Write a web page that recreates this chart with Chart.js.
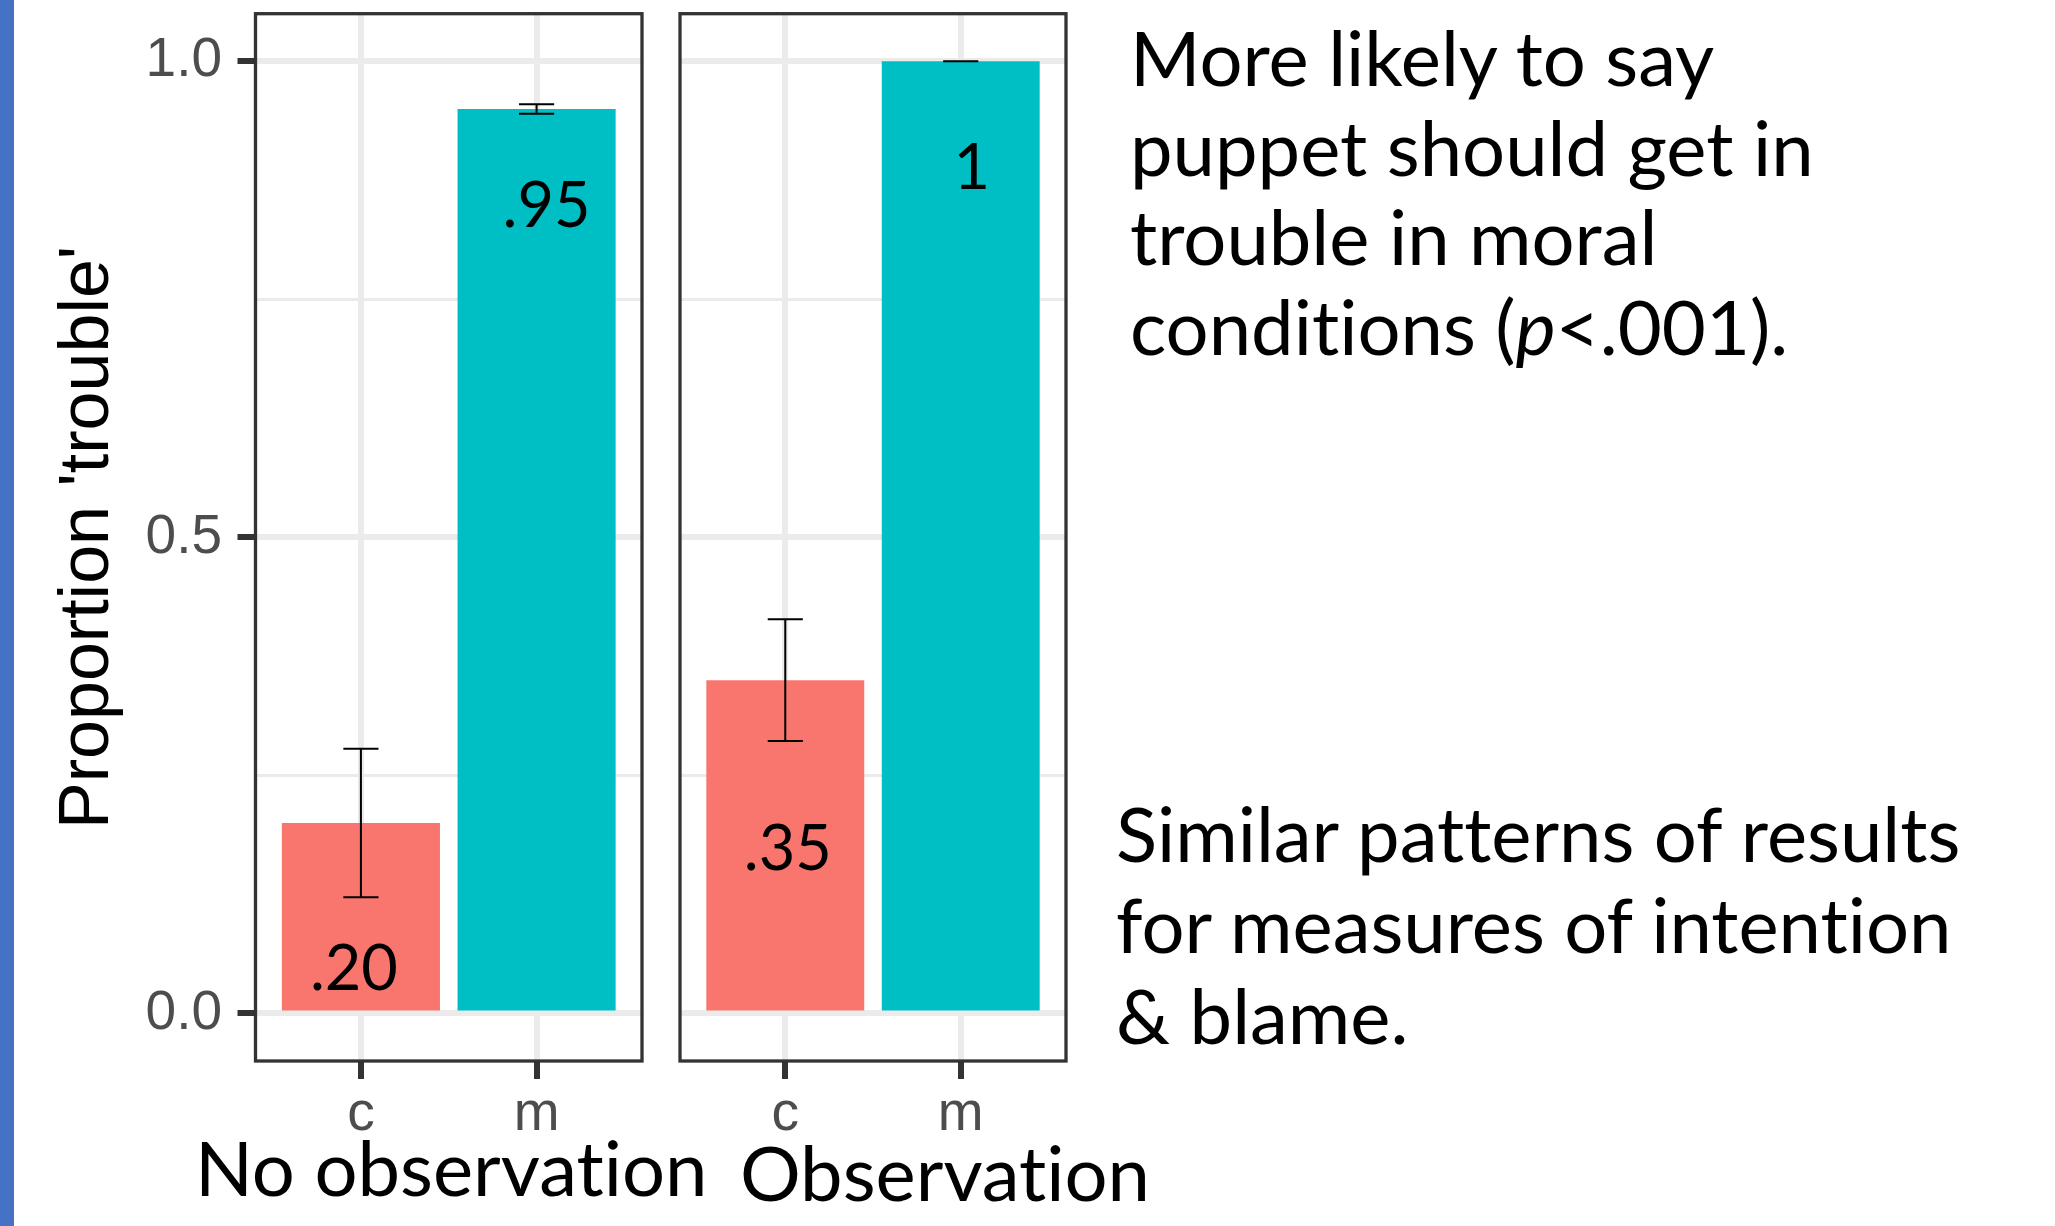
<!DOCTYPE html>
<html>
<head>
<meta charset="utf-8">
<title>Proportion 'trouble' by condition</title>
<script src="https://cdn.jsdelivr.net/npm/chart.js@4/dist/chart.umd.min.js"></script>
<style>
  html, body { margin: 0; padding: 0; background: #ffffff; }
  body { width: 2055px; height: 1226px; position: relative; overflow: hidden; }
  .accent { position: absolute; left: 0; top: 0; width: 14px; height: 1226px; background: #4472C4; }
  .panel { position: absolute; top: 0; }
  #p1 { left: 0; }
  #p2 { left: 660px; }
  .note { position: absolute; font-family: Lato, "Open Sans", sans-serif; color: #000; white-space: nowrap;
          font-variant-ligatures: none; font-feature-settings: "liga" 0, "clig" 0; }
  #n1 { left: 1130px; top: 12px; font-size: 76px; line-height: 89.5px; }
  #n2 { left: 1116px; top: 787px; font-size: 76px; line-height: 91px; }
  #f1 { left: 195px; top: 1130px; font-size: 76px; line-height: 74px; }
  #f2 { left: 740px; top: 1135px; font-size: 76px; line-height: 74px; }
</style>
</head>
<body>
<div class="accent"></div>
<div class="panel" id="p1"><canvas id="c1" width="660" height="1226"></canvas></div>
<div class="panel" id="p2"><canvas id="c2" width="420" height="1226"></canvas></div>
<div class="note" id="n1">More likely to say<br>puppet should get in<br>trouble in moral<br>conditions (<i>p</i>&lt;.001).</div>
<div class="note" id="n2">Similar patterns of results<br>for measures of intention<br>&amp; blame.</div>
<div class="note" id="f1">No observation</div>
<div class="note" id="f2">Observation</div>

<script>
// Conditions on the x axis of each facet
const categories = ['c', 'm'];
const facets = ['No observation', 'Observation'];

// Proportion answering 'trouble', with error-bar limits
const noObsMean  = [0.20, 0.95];
const noObsLower = [0.122, 0.945];
const noObsUpper = [0.278, 0.955];
const noObsLabels = ['.20', '.95'];

const obsMean  = [0.35, 1.00];
const obsLower = [0.286, 1.00];
const obsUpper = [0.414, 1.00];
const obsLabels = ['.35', '1'];

// Y axis breaks (blank label = minor gridline)
const yTicks = [0, 0.25, 0.5, 0.75, 1.0];
const yTickLabels = ['0.0', '', '0.5', '', '1.0'];

// ---- styling ----
const barColors = ['#F8766D', '#00BFC4'];
const gridColor = '#EBEBEB';
const axisDark = '#333333';
const tickText = '#4D4D4D';
const sansFont = '"Liberation Sans", Arial, sans-serif';
const labelFont = 'Lato, "Open Sans", sans-serif';
const capWidth = 0.2;            // error-bar cap width in x units
// value-label placement relative to each bar top (pixels)
const labelOffsets = [
  [{ dx: -7, dy: 167 }, { dx: 10, dy: 118 }],
  [{ dx: 2.5, dy: 190 }, { dx: 11, dy: 128 }]
];

const errorBarPlugin = {
  id: 'errorBars',
  afterDatasetsDraw(chart, args, opts) {
    const { ctx } = chart;
    const x = chart.scales.x, y = chart.scales.y;
    ctx.save();
    ctx.strokeStyle = '#000000';
    ctx.lineWidth = 2;
    opts.lower.forEach((lo, i) => {
      const hi = opts.upper[i];
      const xc = x.getPixelForValue(i);
      const half = x.getPixelForValue(i + capWidth / 2) - xc;
      const yLo = y.getPixelForValue(lo);
      const yHi = y.getPixelForValue(hi);
      ctx.beginPath();
      ctx.moveTo(xc, yLo); ctx.lineTo(xc, yHi);
      ctx.moveTo(xc - half, yLo); ctx.lineTo(xc + half, yLo);
      ctx.moveTo(xc - half, yHi); ctx.lineTo(xc + half, yHi);
      ctx.stroke();
    });
    ctx.restore();
  }
};

const valueLabelPlugin = {
  id: 'valueLabels',
  afterDatasetsDraw(chart, args, opts) {
    const { ctx } = chart;
    const bars = chart.getDatasetMeta(0).data;
    ctx.save();
    ctx.fillStyle = '#000000';
    ctx.font = '63px ' + labelFont;
    ctx.textAlign = 'center';
    ctx.textBaseline = 'alphabetic';
    bars.forEach((bar, i) => {
      const off = opts.offsets[i];
      ctx.fillText(opts.labels[i], bar.x + off.dx, bar.y + off.dy);
    });
    ctx.restore();
  }
};

const panelBorderPlugin = {
  id: 'panelBorder',
  afterDraw(chart) {
    const { ctx, chartArea: a } = chart;
    ctx.save();
    ctx.strokeStyle = axisDark;
    ctx.lineWidth = 3.3;
    ctx.strokeRect(a.left, a.top, a.right - a.left, a.bottom - a.top);
    ctx.restore();
  }
};

function makePanel(canvasId, means, lower, upper, labels, offsets, showY) {
  return new Chart(document.getElementById(canvasId), {
    type: 'bar',
    data: {
      datasets: [{
        data: categories.map((c, i) => ({ x: i, y: means[i] })),
        backgroundColor: barColors,
        borderWidth: 0,
        categoryPercentage: 1,
        barPercentage: 0.9
      }]
    },
    options: {
      responsive: false,
      animation: false,
      events: [],
      layout: { padding: { top: 13.7, right: showY ? 18 : 14, bottom: 0, left: 0 } },
      plugins: {
        legend: { display: false },
        tooltip: { enabled: false },
        errorBars: { lower, upper },
        valueLabels: { labels, offsets }
      },
      scales: {
        x: {
          type: 'linear',
          offset: false,
          min: -0.6,
          max: 1.6,
          afterBuildTicks: s => { s.ticks = categories.map((c, i) => ({ value: i })); },
          afterFit: s => { s.height = 165; s.paddingLeft = 0; s.paddingRight = 0; },
          ticks: {
            callback: v => categories[v] ?? '',
            color: tickText,
            font: { family: sansFont, size: 55 },
            padding: 3,
            maxRotation: 0,
            autoSkip: false
          },
          grid: { offset: false, color: gridColor, lineWidth: 6, tickColor: axisDark, tickWidth: 6, tickLength: 18 },
          border: { display: false }
        },
        y: {
          min: -0.05,
          max: 1.05,
          afterBuildTicks: s => { s.ticks = yTicks.map(v => ({ value: v })); },
          afterFit: s => { s.width = showY ? 255.5 : 20; s.paddingTop = 0; s.paddingBottom = 0; },
          ticks: {
            display: showY,
            callback: (v, i) => yTickLabels[i],
            color: tickText,
            font: { family: sansFont, size: 55 },
            padding: 15.5
          },
          grid: {
            color: gridColor,
            lineWidth: ctx => (yTickLabels[ctx.index] ? 6 : 3),
            tickColor: ctx => (yTickLabels[ctx.index] ? axisDark : 'rgba(0,0,0,0)'),
            tickWidth: 6,
            tickLength: 18,
            drawTicks: showY
          },
          title: {
            display: showY,
            text: "Proportion 'trouble'",
            color: '#000000',
            font: { family: sansFont, size: 70 },
            padding: { top: 47, bottom: 0 }
          },
          border: { display: false }
        }
      }
    },
    plugins: [errorBarPlugin, valueLabelPlugin, panelBorderPlugin]
  });
}

function build() {
  makePanel('c1', noObsMean, noObsLower, noObsUpper, noObsLabels, labelOffsets[0], true);
  makePanel('c2', obsMean, obsLower, obsUpper, obsLabels, labelOffsets[1], false);
}

Promise.all([
  document.fonts.load('63px Lato'),
  document.fonts.load('55px "Liberation Sans"')
]).then(build, build);
</script>
</body>
</html>
